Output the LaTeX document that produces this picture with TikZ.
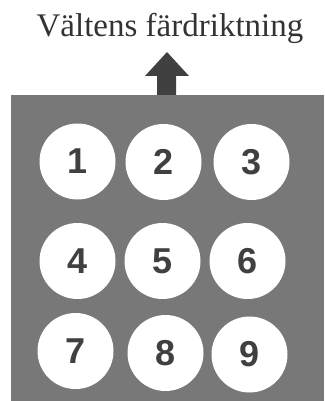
\documentclass[tikz,border=0pt]{standalone}
\usepackage{fontspec}
\setmainfont{Liberation Serif}
\newfontfamily\digitfont{Liberation Sans}
\usepackage{xcolor}
\usetikzlibrary{positioning}
\definecolor{rollergray}{HTML}{787878}
\definecolor{darkgray}{HTML}{404040}
\definecolor{titlegray}{HTML}{333333}
\tikzset{
  drum/.style={circle, fill=white, inner sep=0pt, minimum size=76pt, text=darkgray, font=\digitfont\bfseries\fontsize{36}{40}\selectfont},
  title/.style={anchor=base, text=titlegray, font=\fontsize{33}{40}\selectfont, inner sep=0pt}
}

\begin{document}
\begin{tikzpicture}[x=1pt, y=-1pt]
  \useasboundingbox (0,0) rectangle (324,401);
  \fill[rollergray] (11,95) rectangle (324,401);

  \node[title] (heading) at (170,37) {Vältens färdriktning};
  \fill[darkgray] (157,95) -- (157,76) -- (145,76) -- (167,52) -- (189,76) -- (176,76) -- (176,95) -- cycle;

  \node[drum] (d1) at (77.5,161.5) {1};
  \node[drum] (d2) at (163.5,162) {2};
  \node[drum] (d3) at (251.5,162) {3};

  \node[drum] (d4) at (77.5,261) {4};
  \node[drum] (d5) at (162.5,261) {5};
  \node[drum] (d6) at (247.5,261) {6};

  \node[drum] (d7) at (75.5,351) {7};
  \node[drum] (d8) at (165.5,353) {8};
  \node[drum] (d9) at (249.5,354.5) {9};
\end{tikzpicture}
\end{document}
